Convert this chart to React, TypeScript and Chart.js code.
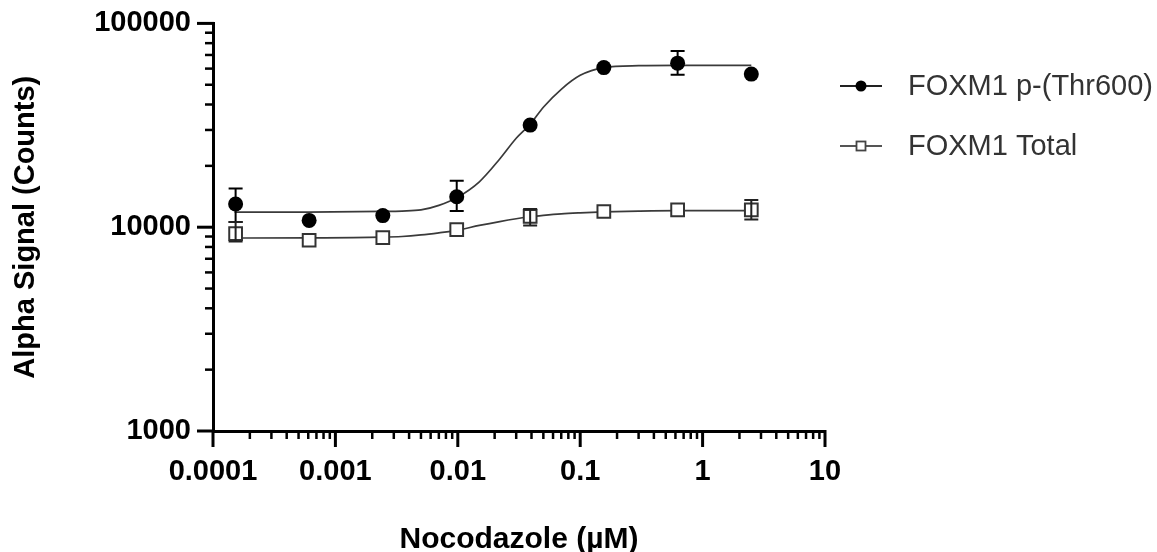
import React, { useEffect, useRef } from "react";
import { Chart, registerables } from "chart.js";

Chart.register(...registerables);

// ---------- data ----------
const concentrations = [0.000153, 0.00061, 0.00244, 0.0098, 0.039, 0.156, 0.625, 2.5];

const phosName = "FOXM1 p-(Thr600)";
const phosMean = [13000, 10800, 11400, 14100, 31700, 60700, 63800, 56400];
const phosUpper = [15500, null, null, 16900, null, null, 73200, null];
const phosLower = [10600, null, null, 12000, null, null, 56000, null];

const totalName = "FOXM1 Total";
const totalMean = [9290, 8630, 8890, 9730, 11300, 11940, 12170, 12170];
const totalUpper = [10600, null, null, null, 12300, null, null, 13600];
const totalLower = [8500, null, null, null, 10200, null, null, 10900];

// fitted curves
const fitX = [0.00015, 0.0006, 0.0024, 0.0035, 0.005, 0.007, 0.0098, 0.015, 0.022, 0.03, 0.039, 0.05, 0.07, 0.1, 0.156, 0.3, 0.625, 2.5];
const phosFit = [11850, 11870, 11950, 12000, 12150, 12800, 13950, 16700, 21600, 27300, 32000, 38800, 47500, 55600, 60700, 62000, 62200, 62200];
const totalFit = [8850, 8860, 8930, 9000, 9160, 9380, 9650, 10200, 10660, 11000, 11250, 11430, 11630, 11760, 11880, 12000, 12070, 12070];

const xTickValues = [0.0001, 0.001, 0.01, 0.1, 1, 10];
const xTickLabels = ["0.0001", "0.001", "0.01", "0.1", "1", "10"];
const yTickValues = [1000, 10000, 100000];
const yTickLabels = ["1000", "10000", "100000"];

const xTitle = "Nocodazole (\u00B5M)";
const yTitle = "Alpha Signal (Counts)";

const FONT = "'Liberation Sans', Arial, Helvetica, sans-serif";

function minorValues(decades: number[]) {
  const out: number[] = [];
  for (let i = 0; i < decades.length - 1; i++) {
    for (let m = 2; m <= 9; m++) out.push(decades[i] * m);
  }
  return out;
}

const axisTicksPlugin = {
  id: "axisTicks",
  afterDraw(chart: any) {
    const ctx = chart.ctx;
    const xs = chart.scales.x;
    const ys = chart.scales.y;
    const { left, bottom } = chart.chartArea;
    ctx.save();
    ctx.strokeStyle = "#000";
    ctx.lineCap = "butt";
    const drawX = (v: number, len: number, w: number) => {
      const p = xs.getPixelForValue(v);
      ctx.lineWidth = w;
      ctx.beginPath();
      ctx.moveTo(p, bottom - 1);
      ctx.lineTo(p, bottom + len);
      ctx.stroke();
    };
    const drawY = (v: number, len: number, w: number) => {
      const p = ys.getPixelForValue(v);
      ctx.lineWidth = w;
      ctx.beginPath();
      ctx.moveTo(left + 1, p);
      ctx.lineTo(left - len, p);
      ctx.stroke();
    };
    xTickValues.forEach((v) => drawX(v, 16, 3));
    minorValues(xTickValues).forEach((v) => drawX(v, 8, 2.5));
    yTickValues.forEach((v) => drawY(v, 16, 3));
    minorValues(yTickValues).forEach((v) => drawY(v, 8, 2.5));
    ctx.restore();
  },
};

const errorBarPlugin = {
  id: "errorBars",
  afterDatasetsDraw(chart: any) {
    const ctx = chart.ctx;
    const xs = chart.scales.x;
    const ys = chart.scales.y;
    const sets = [
      { upper: phosUpper, lower: phosLower, color: "#000" },
      { upper: totalUpper, lower: totalLower, color: "#222" },
    ];
    ctx.save();
    ctx.lineWidth = 2;
    sets.forEach((s) => {
      ctx.strokeStyle = s.color;
      concentrations.forEach((c, i) => {
        const hi = s.upper[i];
        const lo = s.lower[i];
        if (hi == null || lo == null) return;
        const x = xs.getPixelForValue(c);
        const yh = ys.getPixelForValue(hi);
        const yl = ys.getPixelForValue(lo);
        ctx.beginPath();
        ctx.moveTo(x, yh);
        ctx.lineTo(x, yl);
        ctx.moveTo(x - 7, yh);
        ctx.lineTo(x + 7, yh);
        ctx.moveTo(x - 7, yl);
        ctx.lineTo(x + 7, yl);
        ctx.stroke();
      });
    });
    ctx.restore();
  },
};

const legendPlugin = {
  id: "customLegend",
  afterDraw(chart: any) {
    const ctx = chart.ctx;
    const items = [
      { name: phosName, style: "circle", line: "#222" },
      { name: totalName, style: "rect", line: "#555" },
    ];
    ctx.save();
    items.forEach((it, i) => {
      const y = 86 + i * 60;
      ctx.strokeStyle = it.line;
      ctx.lineWidth = 2;
      ctx.beginPath();
      ctx.moveTo(840, y);
      ctx.lineTo(882, y);
      ctx.stroke();
      if (it.style === "circle") {
        ctx.fillStyle = "#000";
        ctx.beginPath();
        ctx.arc(861, y, 5.5, 0, Math.PI * 2);
        ctx.fill();
      } else {
        ctx.fillStyle = "#fff";
        ctx.fillRect(856.5, y - 4.5, 9, 9);
        ctx.strokeStyle = "#444";
        ctx.lineWidth = 1.8;
        ctx.strokeRect(856.5, y - 4.5, 9, 9);
      }
      ctx.fillStyle = "#333";
      ctx.font = `29px ${FONT}`;
      ctx.textAlign = "left";
      ctx.textBaseline = "middle";
      ctx.fillText(it.name, 908, y + 1);
    });
    ctx.restore();
  },
};

export default function App() {
  const canvasRef = useRef<HTMLCanvasElement | null>(null);

  useEffect(() => {
    if (!canvasRef.current) return;
    Chart.defaults.font.family = FONT;
    Chart.defaults.color = "#000";

    const chart = new Chart(canvasRef.current, {
      type: "scatter",
      data: {
        datasets: [
          {
            label: phosName,
            data: concentrations.map((x, i) => ({ x, y: phosMean[i] })),
            pointStyle: "circle",
            pointRadius: 7.5,
            pointBackgroundColor: "#000",
            pointBorderColor: "#000",
            pointBorderWidth: 0,
            showLine: false,
            order: 1,
          } as any,
          {
            label: totalName,
            data: concentrations.map((x, i) => ({ x, y: totalMean[i] })),
            pointStyle: "rect",
            pointRadius: 9,
            pointBackgroundColor: "#fff",
            pointBorderColor: "#333",
            pointBorderWidth: 2,
            showLine: false,
            order: 1,
          } as any,
          {
            label: phosName + " fit",
            data: fitX.map((x, i) => ({ x, y: phosFit[i] })),
            showLine: true,
            borderColor: "#3a3a3a",
            borderWidth: 1.7,
            pointRadius: 0,
            cubicInterpolationMode: "monotone",
            order: 2,
          } as any,
          {
            label: totalName + " fit",
            data: fitX.map((x, i) => ({ x, y: totalFit[i] })),
            showLine: true,
            borderColor: "#3a3a3a",
            borderWidth: 1.7,
            pointRadius: 0,
            cubicInterpolationMode: "monotone",
            order: 2,
          } as any,
        ],
      },
      options: {
        animation: false,
        responsive: true,
        maintainAspectRatio: false,
        layout: { padding: { top: 23, right: 332, left: 0, bottom: 0 } },
        plugins: {
          legend: { display: false },
          tooltip: { enabled: false },
        },
        scales: {
          x: {
            type: "logarithmic",
            min: 0.0001,
            max: 10,
            afterFit: (s: any) => {
              s.height = 121;
            },
            afterBuildTicks: (s: any) => {
              s.ticks = xTickValues.map((v) => ({ value: v, major: true }));
            },
            border: { display: true, color: "#000", width: 3 },
            grid: {
              display: true,
              drawOnChartArea: false,
              drawTicks: true,
              tickLength: 16,
              color: "rgba(0,0,0,0)",
            },
            ticks: {
              autoSkip: false,
              maxRotation: 0,
              padding: 8,
              color: "#000",
              font: { size: 29, weight: "bold" },
              callback: (v: any) => {
                const idx = xTickValues.findIndex((t) => Math.abs(t - Number(v)) / t < 1e-6);
                return idx >= 0 ? xTickLabels[idx] : "";
              },
            },
            title: {
              display: true,
              text: xTitle,
              color: "#000",
              font: { size: 30, weight: "bold", lineHeight: 0.8 },
              padding: { top: 0, bottom: 0 },
            },
          },
          y: {
            type: "logarithmic",
            min: 1000,
            max: 100000,
            afterFit: (s: any) => {
              s.width = 213;
            },
            afterBuildTicks: (s: any) => {
              s.ticks = yTickValues.map((v) => ({ value: v, major: true }));
            },
            border: { display: true, color: "#000", width: 3 },
            grid: {
              display: true,
              drawOnChartArea: false,
              drawTicks: true,
              tickLength: 16,
              color: "rgba(0,0,0,0)",
            },
            ticks: {
              autoSkip: false,
              padding: 6,
              color: "#000",
              font: { size: 29, weight: "bold" },
              callback: (v: any) => {
                const idx = yTickValues.findIndex((t) => Math.abs(t - Number(v)) / t < 1e-6);
                return idx >= 0 ? yTickLabels[idx] : "";
              },
            },
            title: {
              display: true,
              text: yTitle,
              color: "#000",
              font: { size: 29, weight: "bold", lineHeight: 1 },
              padding: { top: 11, bottom: 0 },
            },
          },
        },
      },
      plugins: [axisTicksPlugin, errorBarPlugin, legendPlugin],
    });

    return () => chart.destroy();
  }, []);

  return (
    <div
      style={{
        position: "fixed",
        left: 0,
        top: 0,
        width: 1157,
        height: 552,
        background: "#fff",
      }}
    >
      <canvas ref={canvasRef} />
    </div>
  );
}
